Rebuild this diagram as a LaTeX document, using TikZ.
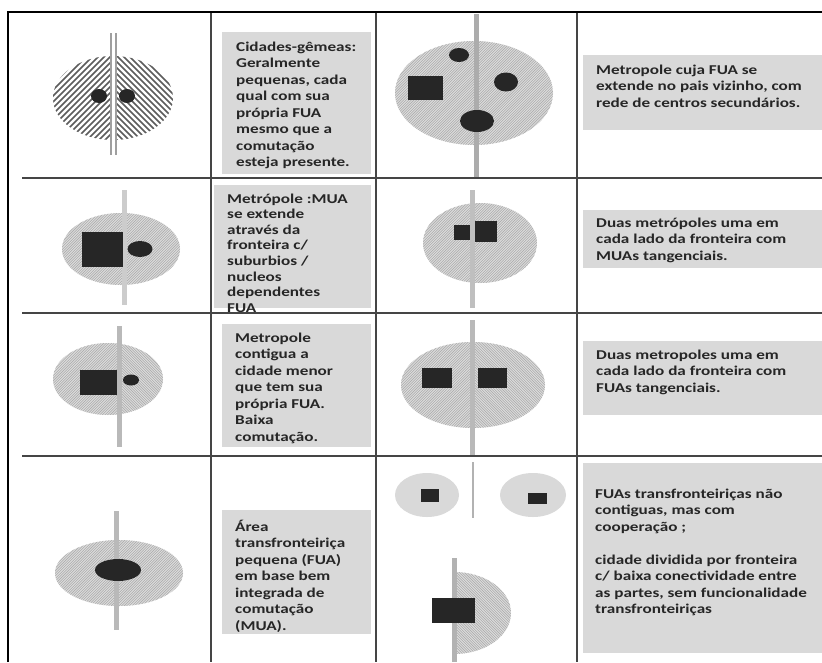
\documentclass[tikz,border=0pt]{standalone}
\usepackage{fontspec}
\setmainfont{Carlito}
\newfontfamily\boxfont{Carlito}[FakeStretch=1.27]
\definecolor{boxgray}{HTML}{D9D9D9}
\definecolor{ink}{HTML}{262626}
\definecolor{gridc}{HTML}{454545}
\definecolor{blobc}{HTML}{262626}
\definecolor{stripec}{HTML}{5C5C5C}
\tikzset{
  graybox/.style={fill=boxgray, draw=none, inner sep=0pt, anchor=north west},
  txt/.style={font=\boxfont\fontsize{13.5}{16.5}\selectfont\bfseries, text=ink, align=left, anchor=north west, inner sep=0pt},
  gridline/.style={draw=gridc, line width=1.5pt},
  borderline/.style={draw=black, line width=2.4pt},
  blob/.style={fill=blobc},
  bighatch/.style={draw=stripec, line width=1.45pt},
  finehatch/.style={draw=gray!62, line width=0.75pt},
  ellfill/.style={fill=gray!24},
  vline/.style={draw=gray!65, line width=5pt},
  dblline/.style={draw=gray!75, line width=1.5pt, double=white, double distance=3.6pt},
}
% #1 cx, #2 cy, #3 direction (1 = "\", -1 = "/"), #4 step, #5 style
\newcommand\hatchlines[5]{%
  \pgfmathtruncatemacro\hatchN{340/#4}%
  \foreach \i [evaluate=\i as \k using -170+\i*#4] in {0,...,\hatchN}{%
    \draw[#5] ({#1+\k-130},{#2-#3*130}) -- ({#1+\k+130},{#2+#3*130});}%
}
\begin{document}
\begin{tikzpicture}[x=1pt,y=-1pt]
\useasboundingbox (0,0) rectangle (822,662);
\fill[white] (0,0) rectangle (822,662);

% ---------- text boxes ----------
\node[graybox, minimum width=149pt, minimum height=142pt] (b1) at (222,32) {};
\node[txt] (t1) at (236,41.5) {Cidades-gêmeas:\\Geralmente\\pequenas, cada\\qual com sua\\própria FUA\\mesmo que a\\comutação\\esteja presente.};

\node[graybox, minimum width=239pt, minimum height=75pt] (b2) at (583,55) {};
\node[txt] (t2) at (596,64.5) {Metropole cuja FUA se\\extende no pais vizinho, com\\rede de centros secundários.};

\node[graybox, minimum width=157pt, minimum height=123pt] (b3) at (214,185) {};
\begin{scope}
  \clip (205,180) rectangle (380,314);
  \node[txt, font=\boxfont\fontsize{13.5}{15.6}\selectfont\bfseries] (t3) at (227,193.5) {Metrópole :MUA\\se extende\\através da\\fronteira c/\\suburbios /\\nucleos\\dependentes\\FUA};
\end{scope}

\node[graybox, minimum width=149pt, minimum height=123pt] (b4) at (222,324) {};
\node[txt] (t4) at (235,332.5) {Metropole\\contigua a\\cidade menor\\que tem sua\\própria FUA.\\Baixa\\comutação.};

\node[graybox, minimum width=239pt, minimum height=58pt] (b5) at (583,210) {};
\node[txt] (t5) at (596,217.5) {Duas metrópoles uma em\\cada lado da fronteira com\\MUAs tangenciais.};

\node[graybox, minimum width=239pt, minimum height=74pt] (b6) at (583,341) {};
\node[txt] (t6) at (596,349.5) {Duas metropoles uma em\\cada lado da fronteira com\\FUAs tangenciais.};

\node[graybox, minimum width=149pt, minimum height=124pt] (b7) at (222,510) {};
\node[txt] (t7) at (235,519.5) {Área\\transfronteiriça\\pequena (FUA)\\em base bem\\integrada de\\comutação\\(MUA).};

\node[graybox, minimum width=239pt, minimum height=190pt] (b8) at (583,463) {};
\node[txt] (t8) at (595,488.5) {FUAs transfronteiriças não\\contiguas, mas com\\cooperação ;\\[16.5pt]cidade dividida por fronteira\\c/ baixa conectividade entre\\as partes, sem funcionalidade\\transfronteiriças};

% ---------- cell 1: twin cities ----------
\begin{scope}
  \clip (50,50) rectangle (113.5,150);
  \clip (113,98) ellipse [x radius=60pt, y radius=42pt];
  \hatchlines{113}{98}{-1}{6}{bighatch}
\end{scope}
\begin{scope}
  \clip (113.5,50) rectangle (180,150);
  \clip (113,98) ellipse [x radius=60pt, y radius=42pt];
  \hatchlines{113}{98}{1}{6}{bighatch}
\end{scope}
\draw[dblline] (113.5,33) -- (113.5,155);
\fill[blob] (99,96) ellipse [x radius=8pt, y radius=7pt];
\fill[blob] (127,96) ellipse [x radius=8pt, y radius=7pt];

% ---------- cell 2: metropole with secondary centres ----------
\fill[ellfill] (474,93) ellipse [x radius=79pt, y radius=52pt];
\begin{scope}
  \clip (474,93) ellipse [x radius=79pt, y radius=52pt];
  \hatchlines{474}{93}{-1}{2.6}{finehatch}
\end{scope}
\draw[vline] (476,14) -- (476,177);
\fill[blob] (408,76) rectangle (443,100);
\fill[blob] (459,55) ellipse [x radius=10pt, y radius=7pt];
\fill[blob] (506,82) ellipse [x radius=12pt, y radius=9.5pt];
\fill[blob] (477,121) ellipse [x radius=17pt, y radius=11pt];

% ---------- cell 3 ----------
\fill[ellfill] (121,249) ellipse [x radius=59pt, y radius=36pt];
\begin{scope}
  \clip (121,249) ellipse [x radius=59pt, y radius=36pt];
  \hatchlines{121}{249}{-1}{2.6}{finehatch}
\end{scope}
\draw[vline, draw=gray!40] (124,190) -- (124,305);
\fill[blob] (82,232) rectangle (123,267);
\fill[blob] (140,249) ellipse [x radius=12.5pt, y radius=8pt];

% ---------- cell 4 ----------
\fill[ellfill] (480,243) ellipse [x radius=57pt, y radius=40pt];
\begin{scope}
  \clip (480,243) ellipse [x radius=57pt, y radius=40pt];
  \hatchlines{480}{243}{-1}{2.6}{finehatch}
\end{scope}
\draw[vline, draw=gray!50] (472,190) -- (472,308);
\fill[blob] (454,225) rectangle (470,240);
\fill[blob] (475,221) rectangle (497,242);

% ---------- cell 5 ----------
\fill[ellfill] (108,379) ellipse [x radius=55pt, y radius=36pt];
\begin{scope}
  \clip (40,330) rectangle (119,430);
  \clip (108,379) ellipse [x radius=55pt, y radius=36pt];
  \hatchlines{108}{379}{-1}{2.6}{finehatch}
\end{scope}
\begin{scope}
  \clip (119,330) rectangle (180,430);
  \clip (108,379) ellipse [x radius=55pt, y radius=36pt];
  \hatchlines{108}{379}{1}{2.6}{finehatch}
\end{scope}
\draw[vline, draw=gray!55] (119,326) -- (119,447);
\fill[blob] (80,370) rectangle (117,395);
\fill[blob] (131,380) ellipse [x radius=8pt, y radius=5.5pt];

% ---------- cell 6 ----------
\fill[ellfill] (473,385) ellipse [x radius=72pt, y radius=43pt];
\begin{scope}
  \clip (390,330) rectangle (472,440);
  \clip (473,385) ellipse [x radius=72pt, y radius=43pt];
  \hatchlines{473}{385}{-1}{2.6}{finehatch}
\end{scope}
\begin{scope}
  \clip (472,330) rectangle (560,440);
  \clip (473,385) ellipse [x radius=72pt, y radius=43pt];
  \hatchlines{473}{385}{1}{2.6}{finehatch}
\end{scope}
\draw[vline, draw=gray!55] (472,320) -- (472,456);
\fill[blob] (422,368) rectangle (452,388);
\fill[blob] (478,368) rectangle (507,388);

% ---------- cell 7 ----------
\fill[ellfill] (119,573) ellipse [x radius=64pt, y radius=33pt];
\begin{scope}
  \clip (119,573) ellipse [x radius=64pt, y radius=33pt];
  \hatchlines{119}{573}{-1}{2.6}{finehatch}
\end{scope}
\draw[vline, draw=gray!55] (116,511) -- (116,630);
\fill[blob] (118,570) ellipse [x radius=23pt, y radius=11pt];

% ---------- cell 8 ----------
\fill[gray!30] (427,495) ellipse [x radius=32pt, y radius=22pt];
\fill[gray!30] (533,495) ellipse [x radius=33pt, y radius=22pt];
\fill[blob] (421,489) rectangle (439,502);
\fill[blob] (528,493) rectangle (547,504);
\draw[draw=gray!60, line width=2pt] (473,462) -- (473,518);
\begin{scope}
  \clip (454,560) rectangle (520,660);
  \fill[ellfill] (454,613) ellipse [x radius=57pt, y radius=41pt];
  \clip (454,613) ellipse [x radius=57pt, y radius=41pt];
  \hatchlines{454}{613}{1}{2.6}{finehatch}
\end{scope}
\draw[vline, draw=gray!60] (454,558) -- (454,662);
\fill[blob] (432,598) rectangle (475,623);

% ---------- grid ----------
\foreach \gx in {211,376,577} \draw[gridline] (\gx,13) -- (\gx,662);
\foreach \gy in {178,313,456} \draw[gridline] (22,\gy) -- (822,\gy);
\draw[borderline] (8,662) -- (8,12) -- (822,12);
\end{tikzpicture}
\end{document}
